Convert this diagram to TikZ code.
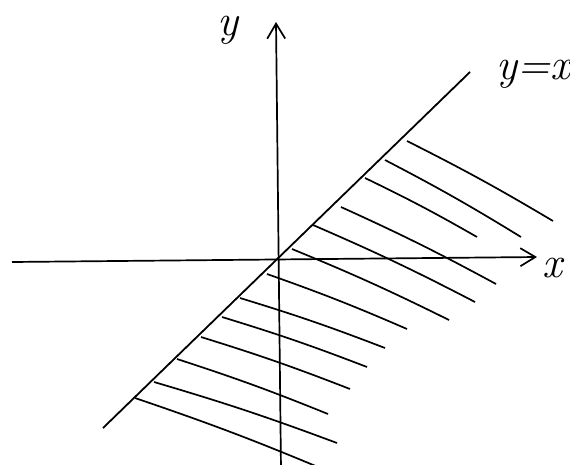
\documentclass[tikz,border=0pt]{standalone}
\usepackage{fontspec}
\setmainfont{Latin Modern Roman}
\usetikzlibrary{arrows.meta}
\begin{document}
\begin{tikzpicture}[x=1pt,y=-1pt,
  axis/.style={line width=1.7pt,-{Straight Barb[length=15pt,width=18pt,line width=1.7pt]}},
  diag/.style={line width=1.8pt},
  hatch/.style={line width=1.7pt, bend left=2},
  lbl/.style={inner sep=0pt, font=\fontsize{44}{44}\selectfont\itshape}]
\useasboundingbox (0,0) rectangle (570,464);
\clip (0,0) rectangle (570,464);
% axes
\coordinate (xl) at (12,262);
\coordinate (xr) at (537,257);
\coordinate (yb) at (281,470);
\coordinate (yt) at (276,22);
\draw[axis] (xl) -- (xr);
\draw[axis] (yb) -- (yt);
% line y=x
\coordinate (dl) at (103,428);
\coordinate (du) at (470,72);
\draw[diag] (dl) -- (du);
% hatch lines
\foreach \i/\sx/\sy/\ex/\ey in {
  1/407/141/553/221, 2/385/160/521/237, 3/365/178/477/237,
  4/341/207/496/284, 5/313/225/475/302, 6/292/249/449/320,
  7/267/274/407/329, 8/240/298/385/348, 9/222/317/367/367,
  10/201/337/350/389, 11/177/359/328/414, 12/154/382/337/443,
  13/135/398/330/472}{
  \coordinate (hs\i) at (\sx,\sy);
  \coordinate (he\i) at (\ex,\ey);
  \draw[hatch] (hs\i) to (he\i);
}
% labels
\node[lbl] (ly) at (228,30) {y};
\node[lbl] (lyx) at (533,74) {y=x};
\node[lbl] (lx) at (552,268) {x};
\end{tikzpicture}
\end{document}
